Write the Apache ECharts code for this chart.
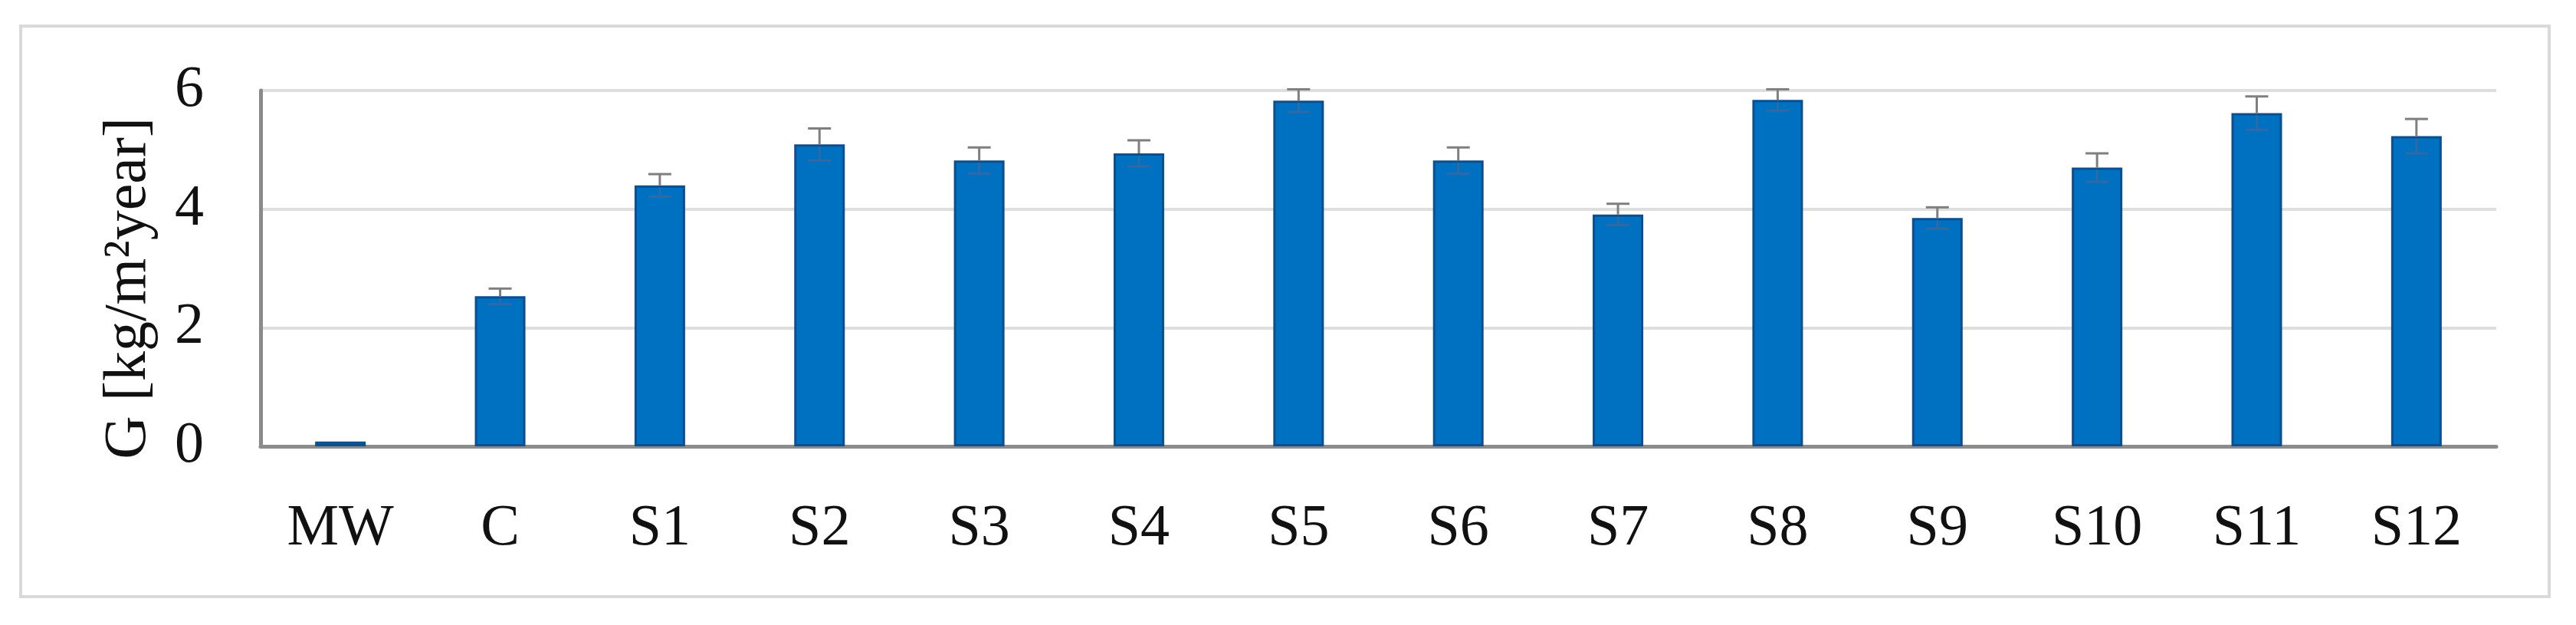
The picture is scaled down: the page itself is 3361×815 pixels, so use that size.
<!DOCTYPE html>
<html>
<head>
<meta charset="utf-8">
<script src="https://cdn.jsdelivr.net/npm/echarts@6/dist/echarts.min.js"></script>
<style>
  html, body { margin: 0; padding: 0; background: #fff; }
  #chart { width: 3361px; height: 815px; }
</style>
</head>
<body>
<div id="chart"></div>
<script>
// samples and measured values
var categories = ['MW', 'C', 'S1', 'S2', 'S3', 'S4', 'S5', 'S6', 'S7', 'S8', 'S9', 'S10', 'S11', 'S12'];
var gValues = [0.08, 2.53, 4.40, 5.09, 4.82, 4.94, 5.83, 4.82, 3.91, 5.84, 3.85, 4.70, 5.62, 5.23];
var gErrors = [0, 0.13, 0.19, 0.27, 0.22, 0.22, 0.19, 0.22, 0.18, 0.18, 0.18, 0.24, 0.28, 0.29];
var yTicks = [0, 2, 4, 6];

var font = '"Liberation Serif", "DejaVu Serif", serif';

var chart = echarts.init(document.getElementById('chart'));

// error bar data: [index, value, error]
var errData = categories.map(function (c, i) {
    return [i, gValues[i], gErrors[i]];
});

var option = {
    backgroundColor: '#fff',
    animation: false,
    grid: { left: 340, right: 104, top: 118, bottom: 233 },
    graphic: [{
        type: 'rect',
        shape: { x: 27, y: 34, width: 3299, height: 744 },
        style: { fill: 'none', stroke: '#d9d9d9', lineWidth: 4 },
        silent: true
    }],
    xAxis: {
        type: 'category',
        data: categories,
        axisLine: { lineStyle: { color: '#8c8c8c', width: 5 } },
        axisTick: { show: false },
        axisLabel: { color: '#111', fontFamily: font, fontSize: 76, margin: 70 }
    },
    yAxis: {
        type: 'value',
        min: yTicks[0],
        max: yTicks[yTicks.length - 1],
        interval: 2,
        name: 'G [kg/m²year]',
        nameLocation: 'middle',
        nameGap: 132,
        nameTextStyle: { color: '#111', fontFamily: font, fontSize: 78, padding: [0, 52, 0, 0] },
        axisLine: { show: true, lineStyle: { color: '#8a8a8a', width: 5 } },
        axisTick: { show: false },
        axisLabel: { color: '#111', fontFamily: font, fontSize: 76, margin: 74 },
        splitLine: { lineStyle: { color: '#dedede', width: 4 } }
    },
    series: [{
        type: 'bar',
        data: gValues,
        barWidth: 66,
        itemStyle: { color: '#0070c0', borderColor: '#0b4f8e', borderWidth: 3 },
        z: 2
    }, {
        type: 'custom',
        data: errData,
        z: 3,
        renderItem: function (params, api) {
            var i = api.value(0);
            var v = api.value(1);
            var e = api.value(2);
            if (!e) return null;
            var top = api.coord([i, v + e]);
            var base = api.coord([i, v]);
            var low = api.coord([i, v - e]);
            var half = 15;
            var style = { stroke: '#7f7f7f', lineWidth: 3 };
            // lower half shows only faintly through the bar
            var faint = { stroke: '#2f6aa6', lineWidth: 3 };
            return {
                type: 'group',
                children: [{
                    type: 'line',
                    shape: { x1: top[0], y1: top[1], x2: base[0], y2: base[1] },
                    style: style
                }, {
                    type: 'line',
                    shape: { x1: top[0] - half, y1: top[1], x2: top[0] + half, y2: top[1] },
                    style: style
                }, {
                    type: 'line',
                    shape: { x1: base[0], y1: base[1] + 3, x2: low[0], y2: low[1] },
                    style: faint
                }, {
                    type: 'line',
                    shape: { x1: low[0] - half, y1: low[1], x2: low[0] + half, y2: low[1] },
                    style: faint
                }]
            };
        }
    }]
};

chart.setOption(option);
</script>
</body>
</html>
